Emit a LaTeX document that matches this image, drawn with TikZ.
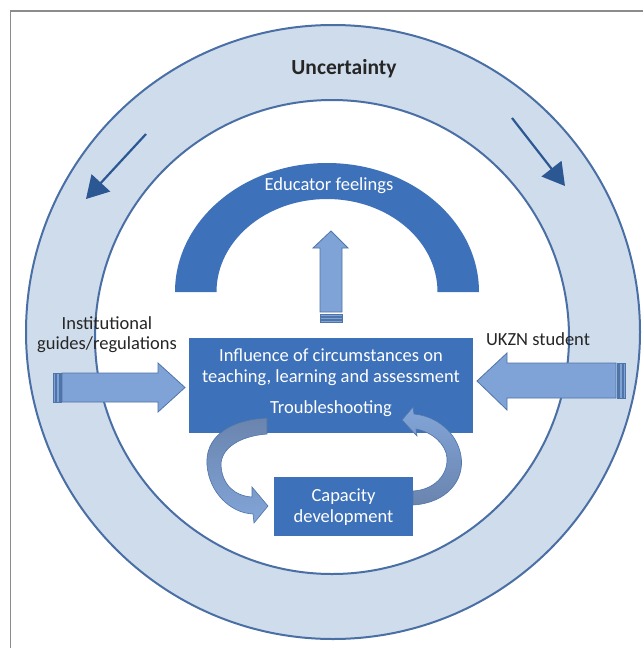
\documentclass[tikz,border=0pt]{standalone}
\usepackage{fontspec}
\setmainfont{Carlito}
\usetikzlibrary{arrows.meta}
\definecolor{ringfill}{HTML}{CFDCEC}
\definecolor{ringline}{HTML}{4A6FA5}
\definecolor{boxblue}{HTML}{3D71B9}
\definecolor{arrowfill}{HTML}{7FA3D7}
\definecolor{arrowline}{HTML}{4F74A8}
\definecolor{ringarrow}{HTML}{2B5893}
\definecolor{curvedark}{HTML}{6A84AE}
\definecolor{curvelight}{HTML}{82A5D8}
\definecolor{framegray}{HTML}{8C8C8C}
\definecolor{textdark}{HTML}{262626}
\begin{document}
\begin{tikzpicture}[x=1pt,y=-1pt,
  ring/.style={draw=ringline, line width=2pt},
  blockarrow/.style={fill=arrowfill, draw=arrowline, line width=0.8pt},
  stripe/.style={fill=arrowfill, draw=arrowline, line width=0.6pt},
  boxtext/.style={text=white, align=center, inner sep=0pt, font=\fontsize{18.5}{21}\selectfont},
  darktext/.style={text=textdark, align=center, inner sep=0pt, font=\fontsize{18.5}{20}\selectfont},
  ringarrowstyle/.style={draw=ringarrow, line width=2.2pt, -{Triangle[length=22pt,width=25pt]}},
  curved/.style={draw=arrowline, line width=0.6pt}
]
\useasboundingbox (0,0) rectangle (643,648);
% frame
\draw[framegray, line width=1.2pt] (10.5,648) -- (10.5,11) -- (643,11);
% rings
\fill[ringfill] (333,332) circle[radius=307pt];
\draw[ring] (333,332) circle[radius=307pt];
\fill[white] (332,337) circle[radius=237pt];
\draw[ring] (332,337) circle[radius=237pt];
% ring arrows
\coordinate (la1) at (146,134); \coordinate (la2) at (86,199);
\coordinate (ra1) at (512,118); \coordinate (ra2) at (565,186);
\draw[ringarrowstyle] (la1) -- (la2);
\draw[ringarrowstyle] (ra1) -- (ra2);
% arch
\fill[boxblue] (175,292) arc[start angle=180, end angle=0, x radius=152pt, y radius=129pt]
  -- (437.5,292) arc[start angle=0, end angle=180, x radius=110.5pt, y radius=93pt] -- cycle;
% up arrow
\draw[blockarrow] (320,312) -- (320,248) -- (313,248) -- (331,231) -- (348,248) -- (342,248) -- (342,312) -- cycle;
\draw[stripe] (320,314.3) rectangle (342,316.5);
\draw[stripe] (320,317.3) rectangle (342,319.5);
\draw[stripe] (320,320.3) rectangle (342,322);
% left block arrow
\draw[blockarrow] (62,373) -- (158,373) -- (158,363) -- (185,387.5) -- (158,412) -- (158,402) -- (62,402) -- cycle;
\draw[stripe] (53,373) rectangle (55.5,402);
\draw[stripe] (56.5,373) rectangle (59,402);
\draw[stripe] (59.8,373) rectangle (61.2,402);
% right block arrow
\draw[blockarrow] (616,363) -- (507,363) -- (507,353) -- (477,381) -- (507,410) -- (507,398) -- (616,398) -- cycle;
\draw[stripe] (616.8,363) rectangle (618.5,398);
\draw[stripe] (619.5,363) rectangle (622,398);
\draw[stripe] (623,363) rectangle (625.5,398);
% boxes
\fill[boxblue] (189,338) rectangle (473,433);
\fill[boxblue] (274,477) rectangle (413,536);
% curved arrows
\shade[curved, top color=curvedark, bottom color=curvelight]
  (267,418) .. controls (225,420) and (205,440) .. (207,465)
  .. controls (209,492) and (230,513) .. (253,514)
  -- (254,523) -- (268,506) -- (252,487) -- (252,497)
  .. controls (235,496) and (222,485) .. (221,465)
  .. controls (221,448) and (240,436) .. (267,434) -- cycle;
\shade[curved, top color=curvelight, bottom color=curvedark]
  (413,505) .. controls (447,503) and (465,480) .. (461,456)
  .. controls (457,432) and (436,416) .. (414,414)
  -- (413,407) -- (402,420) -- (417,436) -- (416,429)
  .. controls (432,432) and (446,444) .. (447,458)
  .. controls (448,476) and (433,490) .. (413,491) -- cycle;
% texts
\node[text=textdark, inner sep=0pt, font=\bfseries\fontsize{21.5}{24}\selectfont] (unc) at (344,69) {Uncertainty};
\node[boxtext] (edu) at (329,186) {Educator feelings};
\node[boxtext] (infl) at (331,367.5) {Influence of circumstances on\\teaching, learning and assessment};
\node[boxtext] (trbl) at (331,409) {Troubleshooting};
\node[boxtext] (cap) at (343.5,507.5) {Capacity\\development};
\node[darktext] (inst) at (107,335) {Institutional\\guides/regulations};
\node[darktext] (ukzn) at (538,339) {UKZN student};
\end{tikzpicture}
\end{document}
